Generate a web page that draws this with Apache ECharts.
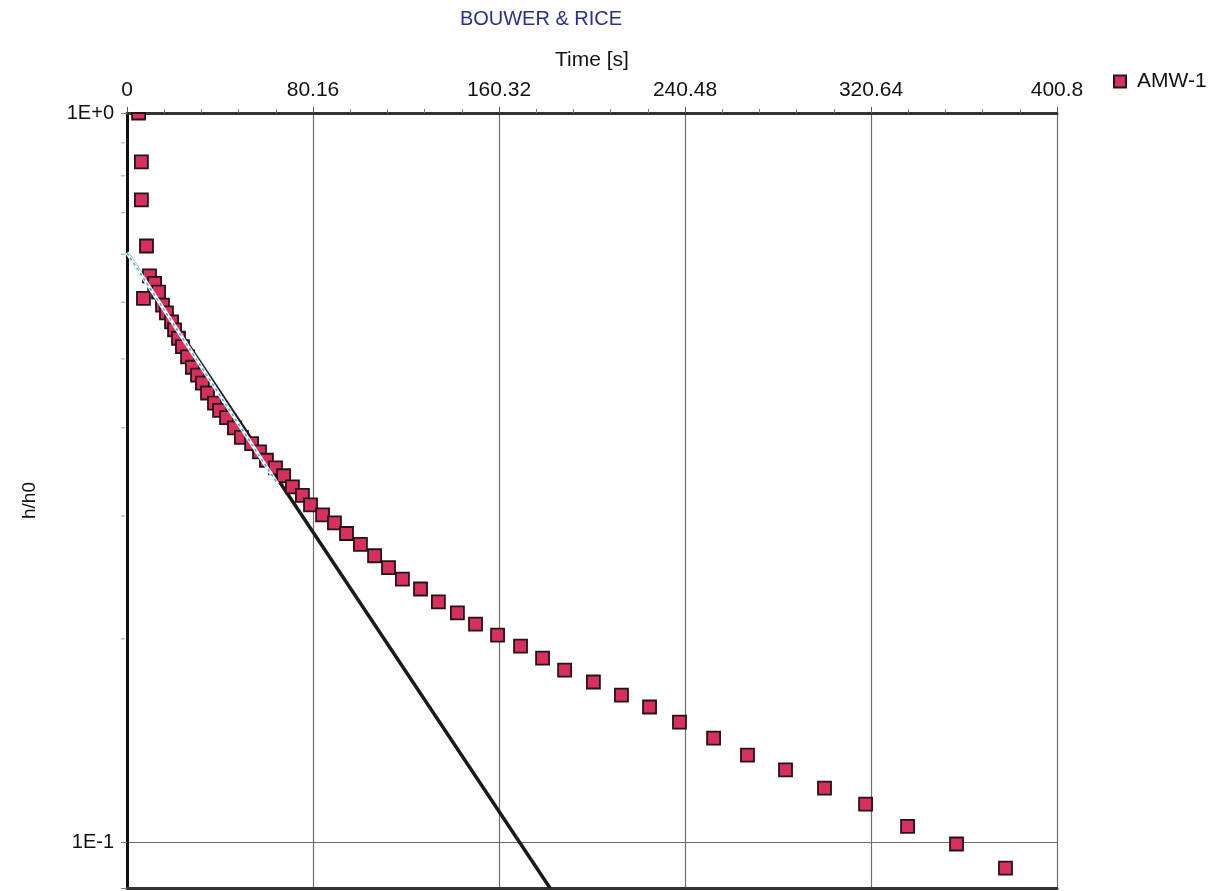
<!DOCTYPE html>
<html>
<head>
<meta charset="utf-8">
<title>BOUWER &amp; RICE</title>
<script src="https://cdn.jsdelivr.net/npm/echarts@6/dist/echarts.min.js"></script>
<style>
  html, body { margin: 0; padding: 0; background: #ffffff; }
  #chart { width: 1230px; height: 891px; }
</style>
</head>
<body>
<div id="chart"></div>
<script>
// Slug-test recovery, well AMW-1: elapsed time [s] vs normalised head h/h0
const wellName = 'AMW-1';
const timeS = [
  5.0, 6.2, 6.2, 8.4, 7.1, 9.7, 11.9, 13.6, 15.3, 17.0,
  19.2, 20.5, 22.2, 23.9, 26.1, 28.2, 30.4, 32.5, 34.7, 37.7,
  39.9, 42.9, 46.3, 49.3, 53.7, 57.1, 60.1, 64.0, 67.5, 71.3,
  75.6, 79.1, 84.3, 89.4, 94.6, 100.6, 106.7, 112.7, 118.7, 126.5,
  134.2, 142.4, 150.2, 159.7, 169.6, 179.1, 188.6, 201.0, 213.1, 225.2,
  238.1, 252.8, 267.4, 283.8, 300.6, 318.3, 336.4, 357.5, 378.6
];
const headRatio = [
  1.000, 0.857, 0.760, 0.657, 0.557, 0.598, 0.584, 0.568, 0.545, 0.532,
  0.517, 0.504, 0.491, 0.478, 0.463, 0.448, 0.437, 0.426, 0.413, 0.400,
  0.391, 0.382, 0.370, 0.359, 0.352, 0.343, 0.334, 0.326, 0.318, 0.307,
  0.299, 0.290, 0.281, 0.274, 0.265, 0.256, 0.247, 0.238, 0.2295, 0.2224,
  0.2135, 0.2062, 0.1991, 0.1923, 0.1857, 0.1788, 0.1721, 0.1658, 0.1591, 0.1532,
  0.1461, 0.1389, 0.1316, 0.1256, 0.1186, 0.1127, 0.1051, 0.0994, 0.0921
];

// Straight-line Bouwer & Rice fit (straight on the log axis)
const fitTime = [0, 182.3];
const fitHead = [0.643, 0.0865];
// Matched segment used for the fit
const matchTime = [0, 64.9];
const matchHead = [0.643, 0.310];

// Axis ranges and ticks
const xMin = 0, xMax = 400.8, xStep = 80.16;
const xTickLabels = ['0', '80.16', '160.32', '240.48', '320.64', '400.8'];
const yMin = 0.0865, yMax = 1;
const yMinorTicks = [0.91, 0.82, 0.73, 0.64, 0.55, 0.46, 0.37, 0.28, 0.19];

const FONT = "'Liberation Sans', Arial, sans-serif";

const points = timeS.map((t, i) => [t, headRatio[i]]);
const fitLine = fitTime.map((t, i) => [t, fitHead[i]]);
const matchLine = matchTime.map((t, i) => [t, matchHead[i]]);

const chart = echarts.init(document.getElementById('chart'), null, { renderer: 'canvas' });

// Square markers, clipped to the plot rectangle
function squareMarker(params, api) {
  const p = api.coord([api.value(0), api.value(1)]);
  const s = 13;
  const cs = params.coordSys;
  const r = echarts.graphic.clipRectByRect(
    { x: p[0] - s / 2, y: p[1] - s / 2, width: s, height: s },
    { x: cs.x, y: cs.y, width: cs.width, height: cs.height }
  );
  if (!r) return null;
  return {
    type: 'rect',
    shape: r,
    style: { fill: '#d8305c', stroke: '#231417', lineWidth: 1.8 }
  };
}

// Small outward ticks on the left axis
function yMinorTick(params, api) {
  const p = api.coord([xMin, api.value(0)]);
  return {
    type: 'line',
    shape: { x1: p[0] - 6, y1: p[1], x2: p[0] - 2, y2: p[1] },
    style: { stroke: '#a0a0a0', lineWidth: 1 }
  };
}

chart.setOption({
  backgroundColor: '#ffffff',
  animation: false,
  title: {
    text: 'BOUWER & RICE',
    left: 536,
    top: 4,
    textAlign: 'center',
    textStyle: { color: '#2b2f8c', fontSize: 20, fontWeight: 'normal', fontFamily: FONT }
  },
  legend: {
    data: [{ name: wellName, icon: 'rect' }],
    left: 1108,
    top: 66,
    itemWidth: 12,
    itemHeight: 12,
    itemGap: 10,
    textStyle: { color: '#111', fontSize: 21, fontFamily: FONT, padding: [0, 0, 0, 6] }
  },
  grid: { left: 127, right: 173, top: 113, bottom: 3, containLabel: false },
  xAxis: [
    {
      type: 'value',
      position: 'top',
      min: xMin,
      max: xMax,
      interval: xStep,
      name: 'Time [s]',
      nameLocation: 'middle',
      nameGap: 42,
      nameTextStyle: { color: '#111', fontSize: 21, fontFamily: FONT },
      axisLine: { show: true, onZero: false, lineStyle: { color: '#333', width: 3 } },
      axisTick: { show: true, length: 6, lineStyle: { color: '#555', width: 1 } },
      minorTick: { show: true, splitNumber: 5, length: 4, lineStyle: { color: '#777', width: 1 } },
      axisLabel: {
        margin: 12,
        color: '#111',
        fontSize: 21,
        fontFamily: FONT,
        formatter: (v) => {
          const i = Math.round((v - xMin) / xStep);
          return xTickLabels[i] !== undefined ? xTickLabels[i] : '';
        }
      },
      splitLine: { show: true, lineStyle: { color: '#6e6e6e', width: 1.2 } }
    },
    {
      type: 'value',
      position: 'bottom',
      min: xMin,
      max: xMax,
      interval: xStep,
      axisLine: { show: true, onZero: false, lineStyle: { color: '#333', width: 3 } },
      axisTick: { show: false },
      axisLabel: { show: false },
      splitLine: { show: false }
    }
  ],
  yAxis: {
    type: 'log',
    logBase: 10,
    min: yMin,
    max: yMax,
    name: 'h/h0',
    nameLocation: 'middle',
    nameGap: 88,
    nameRotate: 90,
    nameTextStyle: { color: '#111', fontSize: 19, fontFamily: FONT },
    axisLine: { show: true, onZero: false, lineStyle: { color: '#111', width: 3 } },
    axisTick: { show: true, length: 6, lineStyle: { color: '#777', width: 1 } },
    axisLabel: {
      margin: 13,
      color: '#111',
      fontSize: 20,
      fontFamily: FONT,
      formatter: (v) => {
        const e = Math.log10(v);
        if (Math.abs(e - Math.round(e)) > 1e-6) return '';
        const n = Math.round(e);
        return '1E' + (n >= 0 ? '+' : '-') + Math.abs(n);
      }
    },
    splitLine: { show: true, lineStyle: { color: '#6e6e6e', width: 1.2 } }
  },
  series: [
    {
      name: 'fit',
      type: 'line',
      data: fitLine,
      symbol: 'none',
      z: 1,
      lineStyle: { color: '#1a1a1a', width: 3.5 },
      silent: true
    },
    {
      name: wellName,
      type: 'custom',
      renderItem: squareMarker,
      data: points,
      encode: { x: 0, y: 1 },
      z: 2,
      itemStyle: { color: '#d8305c', borderColor: '#231417', borderWidth: 1.6 }
    },
    {
      name: 'match',
      type: 'line',
      data: matchLine,
      symbol: 'none',
      z: 3,
      lineStyle: { color: '#ffffff', width: 3.5 },
      silent: true
    },
    {
      name: 'match-dash',
      type: 'line',
      data: matchLine,
      symbol: 'none',
      z: 4,
      lineStyle: { color: '#3fb0e6', width: 1.6, type: [3, 3] },
      silent: true
    },
    {
      name: 'y-minor',
      type: 'custom',
      renderItem: yMinorTick,
      data: yMinorTicks.map((v) => [v]),
      encode: { y: 0 },
      z: 1,
      silent: true
    }
  ]
});
</script>
</body>
</html>
